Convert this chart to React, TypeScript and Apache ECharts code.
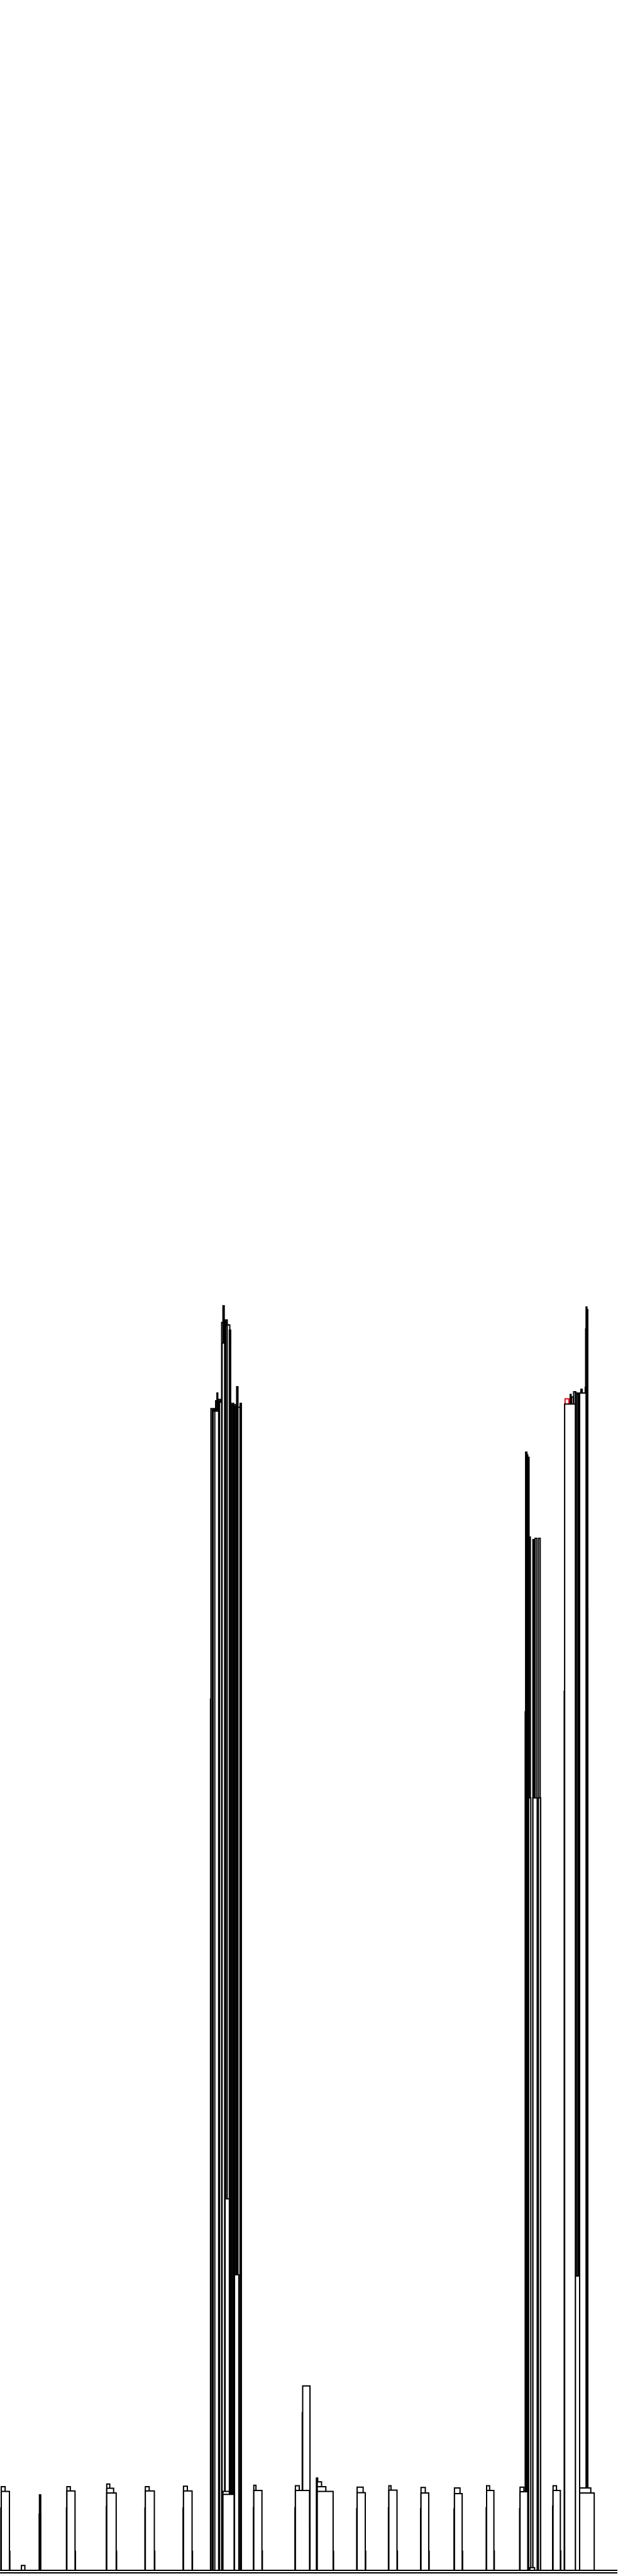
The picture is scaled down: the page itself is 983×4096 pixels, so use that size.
import React, { useEffect, useRef } from "react";
import * as echarts from "echarts";

// x: slot units (0..144), y: value units (0..200)

// repeated small pulses
const pulseStart = [0.3, 15.6, 24.9, 33.9, 42.8, 52.0, 59.2, 68.9, 74.0, 83.3, 90.7, 98.2, 106.0, 113.5, 121.3, 129.0, 135.2];
const peakEnd = [1.2, 16.4, 25.6, 34.8, 43.7, 53.5, 59.7, 69.8, 75.0, 84.7, 91.2, 99.2, 107.3, 114.2, 122.2, 129.8, 137.8];
const peakValue = [6.51, 6.51, 6.71, 6.51, 6.54, 6.14, 6.61, 6.58, 6.88, 6.47, 6.58, 6.44, 6.41, 6.58, 6.47, 6.58, 6.41];
const bodyEnd = [2.2, 17.5, 27.1, 36.0, 44.8, 54.6, 61.1, 72.2, 77.7, 85.2, 92.6, 100.0, 107.8, 115.2, 123.1, 130.7, 138.6];
const bodyValue = [6.14, 6.18, 6.01, 6.18, 6.18, 5.9, 6.21, 6.21, 6.14, 6.04, 6.24, 6.01, 5.97, 6.21, 6.11, 6.21, 6.01];
const leftLagValue = [4.84, 4.84, 4.97, 4.84, 4.84, null, 4.87, 4.87, 5.34, 4.8, 4.87, 4.8, 4.77, 4.87, 4.8, 5.0, null];
const rightLagValue = [1.47, 1.47, 1.47, 1.47, 1.47, null, 1.5, 3.57, 1.47, 1.47, 1.5, 1.47, 1.47, 1.5, 1.47, 1.5, null];

// intermediate steps of two pulses
const shoulderStart = [24.9, 74.0];
const shoulderEnd = [26.5, 76.0];
const shoulderValue = [6.38, 6.51];

// isolated bars: [start, end, value]
const strayBars = [
  [5.0, 5.8, 0.37],
  [9.15, 9.45, 4.37],
  [9.2, 9.5, 5.87],
  [73.8, 74.1, 7.18],
  [70.5, 72.2, 12.25],
  [70.6, 72.3, 14.35],
];

// left tower
const leftTower = [
  [49.1, 50.1, 67.8],
  [49.2, 50.0, 90.4],
  [49.5, 49.8, 90.3],
  [49.7, 50.3, 90.2],
  [50.3, 50.8, 91.0],
  [50.6, 50.8, 91.6],
  [50.8, 51.5, 91.1],
  [51.0, 51.3, 91.0],
  [51.2, 51.8, 90.9],
  [51.7, 52.1, 97.1],
  [52.0, 52.3, 98.4],
  [52.3, 53.0, 97.3],
  [52.5, 52.8, 97.2],
  [52.7, 53.3, 96.9],
  [53.0, 53.6, 96.9],
  [53.5, 53.8, 96.5],
  [53.8, 54.5, 90.8],
  [54.0, 54.3, 90.7],
  [54.5, 55.2, 90.7],
  [54.7, 55.0, 90.6],
  [55.2, 55.5, 92.1],
  [55.5, 56.0, 90.5],
  [56.0, 56.3, 90.8],
  [52.5, 53.5, 28.9],
  [54.7, 55.7, 23.0],
  [50.1, 51.0, 90.2],
  [51.8, 52.4, 95.5],
];

// middle tower
const midTower = [
  [122.5, 123.6, 66.8],
  [122.6, 122.9, 87.0],
  [122.9, 123.1, 86.8],
  [123.1, 123.4, 86.6],
  [123.4, 123.7, 80.4],
  [123.3, 123.8, 60.1],
  [124.3, 124.6, 80.2],
  [124.8, 125.2, 80.3],
  [125.6, 126.0, 80.3],
  [124.3, 125.3, 60.1],
  [125.6, 126.1, 60.1],
  [123.6, 124.7, 0.2],
];

// highlighted bar
const highlightBar = [[131.8, 132.7, 91.15]];

// right tower
const rightTower = [
  [131.6, 134.1, 68.4],
  [133.0, 133.2, 91.5],
  [133.3, 133.7, 91.3],
  [133.8, 134.3, 91.7],
  [134.2, 134.6, 91.6],
  [134.5, 134.9, 91.5],
  [134.8, 135.2, 91.6],
  [135.0, 135.5, 91.6],
  [135.5, 135.8, 91.9],
  [135.8, 136.6, 91.6],
  [136.5, 136.7, 92.05],
  [136.6, 136.8, 96.6],
  [136.7, 136.9, 98.3],
  [136.9, 137.1, 98.1],
  [134.2, 135.2, 22.9],
  [136.8, 137.1, 74.8],
  [131.7, 134.2, 90.75],
  [135.2, 136.7, 91.6],
];

const S = 0.682;

function makeRender(stroke: string) {
  return (params: any, api: any) => {
    const x0 = api.value(0);
    const x1 = api.value(1);
    const v = api.value(2);
    const a = api.coord([x0, v]);
    const b = api.coord([x1, 0]);
    return {
      type: "rect",
      shape: { x: a[0], y: a[1], width: b[0] - a[0], height: b[1] - a[1] },
      style: { fill: "#ffffff", stroke, lineWidth: 2 },
    };
  };
}

function rectSeries(name: string, data: number[][], stroke = "#000000", extra: any = {}) {
  return {
    type: "custom",
    name,
    data,
    encode: { x: [0, 1], y: 2 },
    renderItem: makeRender(stroke),
    clip: false,
    silent: true,
    ...extra,
  };
}

export default function App() {
  const ref = useRef<HTMLDivElement>(null);
  useEffect(() => {
    if (!ref.current) return;
    const chart = echarts.init(ref.current, null, { renderer: "svg" });

    const lowLeft: number[][] = [];
    const lowRight: number[][] = [];
    pulseStart.forEach((s, i) => {
      const l = leftLagValue[i];
      const r = rightLagValue[i];
      if (l != null) lowLeft.push([s - 0.1, bodyEnd[i] - 0.1, l]);
      if (r != null) lowRight.push([s + 0.1, bodyEnd[i] + 0.1, r]);
    });
    const peaks = pulseStart.map((s, i) => [s, peakEnd[i], peakValue[i]]);
    const shoulders = shoulderStart.map((s, i) => [s, shoulderEnd[i], shoulderValue[i]]);
    const bodies = pulseStart.map((s, i) => [s, bodyEnd[i], bodyValue[i]]);

    chart.setOption({
      animation: false,
      backgroundColor: "#ffffff",
      grid: { left: 0, right: 0, top: 0, bottom: 1, containLabel: false },
      xAxis: {
        type: "value",
        min: 0,
        max: 144,
        axisLine: { show: true, onZero: false, lineStyle: { color: "#000", width: 2 } },
        axisTick: { show: false },
        axisLabel: { show: false },
        splitLine: { show: false },
      },
      yAxis: {
        type: "value",
        min: -0.2,
        max: 200,
        axisLine: { show: false },
        axisTick: { show: false },
        axisLabel: { show: false },
        splitLine: { show: false },
      },
      series: [
        rectSeries("highlight", highlightBar, "#ff0000"),
        rectSeries("towers", [...strayBars, ...leftTower, ...midTower, ...rightTower]),
        rectSeries("lowLeft", lowLeft),
        rectSeries("lowRight", lowRight),
        rectSeries("peak", peaks),
        rectSeries("shoulder", shoulders),
        rectSeries("body", bodies, "#000000", {
          markLine: {
            silent: true,
            symbol: ["none", "none"],
            label: { show: false },
            lineStyle: { color: "#000", width: 2, type: "solid" },
            data: [{ yAxis: 0 }],
          },
        }),
      ],
    });
    return () => chart.dispose();
  }, []);
  return (
    <div
      ref={ref}
      style={{ position: "absolute", left: 0, top: 0, width: Math.round(1440 * S), height: Math.round(6000 * S) }}
    />
  );
}
